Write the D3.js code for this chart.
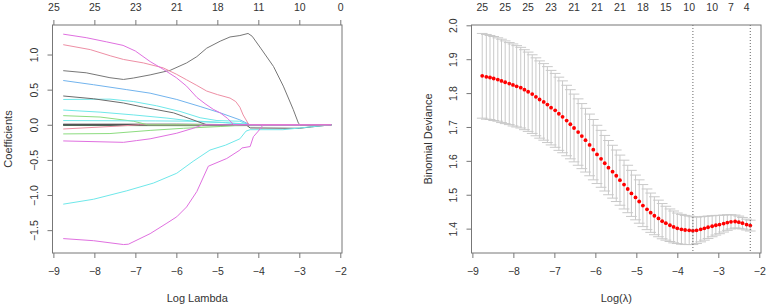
<!DOCTYPE html>
<html>
<head>
<meta charset="utf-8">
<script src="https://cdn.jsdelivr.net/npm/d3@7"></script>
<style>
  body { margin: 0; background: #fff; }
  text { font-family: "Liberation Sans", Arial, sans-serif; fill: #333; }
</style>
</head>
<body>
<div id="chart-area"></div>
<script>
/*
*    lasso paths + cv deviance
*/

// lambda grid (log scale), shared by both panels
var logLambda = [-8.76, -8.66, -8.57, -8.48, -8.38, -8.29, -8.20, -8.10, -8.01, -7.92,
    -7.82, -7.73, -7.64, -7.54, -7.45, -7.36, -7.26, -7.17, -7.08, -6.98,
    -6.89, -6.80, -6.70, -6.61, -6.52, -6.42, -6.33, -6.24, -6.14, -6.05,
    -5.96, -5.86, -5.77, -5.68, -5.58, -5.49, -5.40, -5.30, -5.21, -5.12,
    -5.02, -4.93, -4.84, -4.74, -4.65, -4.56, -4.46, -4.37, -4.28, -4.18,
    -4.09, -4.00, -3.90, -3.81, -3.71, -3.62, -3.53, -3.43, -3.34, -3.25,
    -3.15, -3.06, -2.97, -2.87, -2.78, -2.69, -2.59, -2.50, -2.41, -2.31, -2.22];

var cvMean = [1.851, 1.848, 1.846, 1.843, 1.840, 1.836, 1.832, 1.828, 1.824, 1.820,
    1.816, 1.810, 1.804, 1.797, 1.789, 1.781, 1.774, 1.766, 1.757, 1.749,
    1.739, 1.730, 1.719, 1.708, 1.697, 1.685, 1.673, 1.661, 1.647, 1.633,
    1.619, 1.606, 1.593, 1.580, 1.568, 1.556, 1.543, 1.530, 1.517, 1.504,
    1.492, 1.480, 1.468, 1.457, 1.447, 1.438, 1.430, 1.422, 1.416, 1.410,
    1.405, 1.401, 1.398, 1.396, 1.395, 1.394, 1.395, 1.398, 1.401, 1.404,
    1.407, 1.410, 1.412, 1.415, 1.418, 1.420, 1.421, 1.419, 1.416, 1.412, 1.409];

var cvSD = [0.125, 0.125, 0.124, 0.124, 0.123, 0.123, 0.122, 0.121, 0.121, 0.120,
    0.119, 0.118, 0.117, 0.116, 0.115, 0.114, 0.113, 0.112, 0.110, 0.109,
    0.108, 0.106, 0.104, 0.102, 0.100, 0.098, 0.096, 0.094, 0.091, 0.089,
    0.086, 0.084, 0.082, 0.080, 0.078, 0.076, 0.074, 0.072, 0.070, 0.068,
    0.066, 0.064, 0.062, 0.060, 0.058, 0.056, 0.054, 0.052, 0.050, 0.048,
    0.047, 0.045, 0.044, 0.043, 0.042, 0.041, 0.039, 0.037, 0.035, 0.033,
    0.031, 0.029, 0.027, 0.025, 0.023, 0.021, 0.019, 0.018, 0.017, 0.016, 0.016];

// number of nonzero coefs shown on top of the cv plot
var nzTopIdx = [0, 6, 12, 18, 24, 30, 36, 42, 48, 54, 60, 65, 69];
var nzTopLabels = ["25", "25", "25", "23", "21", "21", "21", "18", "15", "10", "10", "7", "4"];
var minIdx = 55;   // lambda.min
var seIdx = 70;    // lambda.1se

// top labels of the coefficient plot (at -9 ... -2)
var dfTicks = [-9, -8, -7, -6, -5, -4, -3, -2];
var dfLabels = ["25", "25", "23", "21", "18", "11", "10", "0"];

var xTicks = [-9, -8, -7, -6, -5, -4, -3, -2];
var coefTicks = [-1.5, -1.0, -0.5, 0.0, 0.5, 1.0];
var devTicks = [1.4, 1.5, 1.6, 1.7, 1.8, 1.9, 2.0];

// coefficient paths: [log lambda, coefficient]
var coefMagentaTop = [[-8.76, 1.29], [-8.2, 1.24], [-7.7, 1.18], [-7.3, 1.13], [-7.0, 1.05], [-6.64, 0.90],
    [-6.32, 0.79], [-6.0, 0.67], [-5.75, 0.55], [-5.5, 0.39], [-5.3, 0.30], [-5.1, 0.22], [-4.93, 0.17],
    [-4.75, 0.09], [-4.6, 0], [-2.22, 0]];
var coefPinkTop = [[-8.76, 1.14], [-8.1, 1.07], [-7.6, 0.98], [-7.29, 0.93], [-6.8, 0.88], [-6.32, 0.81],
    [-6.0, 0.72], [-5.75, 0.64], [-5.5, 0.56], [-5.26, 0.48], [-5.0, 0.43], [-4.69, 0.38], [-4.55, 0.33],
    [-4.45, 0.25], [-4.37, 0.14], [-4.24, 0.01], [-4.2, 0], [-2.22, 0]];
var coefGrayBig = [[-8.76, 0.77], [-8.2, 0.74], [-7.62, 0.67], [-7.29, 0.645], [-7.05, 0.665], [-6.64, 0.71],
    [-6.15, 0.775], [-5.75, 0.88], [-5.5, 0.97], [-5.26, 1.09], [-4.93, 1.19], [-4.69, 1.25], [-4.45, 1.27],
    [-4.25, 1.30], [-4.15, 1.26], [-3.93, 1.08], [-3.63, 0.83], [-3.39, 0.55], [-3.15, 0.22], [-3.02, 0.02],
    [-2.98, 0], [-2.22, 0]];
var coefBlue = [[-8.76, 0.63], [-8.02, 0.57], [-7.21, 0.50], [-6.64, 0.45], [-5.99, 0.36], [-5.42, 0.26],
    [-4.93, 0.17], [-4.45, 0.07], [-4.2, 0], [-2.22, 0]];
var coefGray2 = [[-8.76, 0.41], [-8.02, 0.37], [-7.29, 0.31], [-6.8, 0.25], [-6.07, 0.17], [-5.83, 0.12],
    [-5.5, 0.05], [-5.26, 0], [-2.22, 0]];
var coefCyan1 = [[-8.76, 0.36], [-7.62, 0.365], [-7.04, 0.33], [-6.48, 0.27], [-5.91, 0.19], [-5.42, 0.10],
    [-5.01, 0.06], [-4.45, 0.05], [-4.24, 0], [-2.22, 0]];
var coefCyan2 = [[-8.76, 0.21], [-7.86, 0.18], [-7.04, 0.14], [-6.23, 0.095], [-5.5, 0.045], [-4.8, 0.03],
    [-4.28, 0.01], [-4.2, 0], [-2.22, 0]];
var coefGreen1 = [[-8.76, 0.13], [-7.86, 0.11], [-7.04, 0.05], [-6.7, 0], [-2.22, 0]];
var coefCyan3 = [[-8.76, 0.06], [-6.5, 0.055], [-5.42, 0.05], [-4.8, 0.03], [-4.2, 0], [-2.22, 0]];
var coefGreen2 = [[-8.76, -0.13], [-7.62, -0.125], [-6.64, -0.08], [-5.83, -0.05], [-4.93, -0.025],
    [-4.3, 0], [-2.22, 0]];
var coefPink2 = [[-8.76, -0.06], [-7.45, -0.02], [-6.9, 0], [-2.22, 0]];
var coefMagenta2 = [[-8.76, -0.23], [-7.29, -0.25], [-6.97, -0.225], [-6.64, -0.20], [-5.99, -0.12],
    [-5.59, -0.05], [-5.34, 0], [-2.22, 0]];
var coefCyanLow = [[-8.76, -1.13], [-8.02, -1.06], [-7.21, -0.94], [-6.56, -0.83], [-5.99, -0.69],
    [-5.59, -0.52], [-5.18, -0.36], [-4.8, -0.29], [-4.45, -0.20], [-4.3, -0.09], [-4.2, -0.07],
    [-3.4, -0.07], [-2.22, 0]];
var coefMagentaLow = [[-8.76, -1.62], [-8.02, -1.65], [-7.29, -1.705], [-7.17, -1.70], [-6.64, -1.55],
    [-6.23, -1.40], [-5.99, -1.31], [-5.75, -1.17], [-5.5, -0.95], [-5.22, -0.59], [-4.77, -0.48],
    [-4.45, -0.36], [-4.4, -0.33], [-4.2, -0.31], [-4.12, -0.17], [-4.0, -0.09], [-3.88, 0], [-2.22, 0]];
var coefBlackNeg = [[-8.76, 0], [-4.3, 0], [-4.2, -0.045], [-3.0, -0.05], [-2.7, -0.03], [-2.22, 0]];
var coefGreen3 = [[-8.76, -0.01], [-5.0, -0.015], [-4.2, -0.012], [-3.0, -0.01], [-2.22, 0]];
var coefBlack0 = [[-8.76, 0.008], [-6.0, 0.008], [-5.0, 0.004], [-4.6, 0], [-2.22, 0]];
var coefBlue0 = [[-8.76, 0], [-2.22, 0]];
var coefBlack1 = [[-8.76, -0.004], [-5.4, -0.003], [-4.2, 0], [-2.22, 0]];

var coefPaths = [coefGreen3, coefBlue0, coefBlack1, coefBlack0, coefBlackNeg, coefPink2, coefGreen2,
    coefGreen1, coefCyan3, coefCyan2, coefCyan1, coefGray2, coefBlue, coefMagenta2, coefCyanLow,
    coefMagentaLow, coefGrayBig, coefPinkTop, coefMagentaTop];
var coefColors = ["#7fd873", "#1d4f9a", "#333333", "#3a3a3a", "#5a5a5a", "#ee8fa5", "#8ddc80",
    "#8ddc80", "#6fe8ea", "#6fe8ea", "#6fe8ea", "#6b6b6b", "#72b4ee", "#e070e0", "#6fe8ea",
    "#e070e0", "#777777", "#ee8fa5", "#e070e0"];

var width = 767;
var height = 308;
var plotTop = 25, plotBottom = 253;
var leftPanel = {x0: 52.5, x1: 342};
var rightPanel = {x0: 471.5, x1: 761};

var svg = d3.select("#chart-area")
    .append("svg")
    .attr("width", width)
    .attr("height", height);

// R style 4% padding
function padded(ext) {
    var d = (ext[1] - ext[0]) * 0.04;
    return [ext[0] - d, ext[1] + d];
}

var lamExt = d3.extent(logLambda);

// ---------- left: coefficient paths ----------
var xL = d3.scaleLinear().domain(padded(lamExt)).range([leftPanel.x0, leftPanel.x1]);
var allCoef = [];
coefPaths.forEach((p) => { p.forEach((d) => { allCoef.push(d[1]); }); });
var yL = d3.scaleLinear().domain(padded(d3.extent(allCoef))).range([plotBottom, plotTop]);

var gL = svg.append("g");

var line = d3.line()
    .x((d) => { return xL(d[0]); })
    .y((d) => { return yL(d[1]); });

gL.selectAll("path.coef").data(coefPaths)
    .enter()
    .append("path")
        .attr("class", "coef")
        .attr("d", line)
        .attr("fill", "none")
        .attr("stroke", (d, i) => { return coefColors[i]; })
        .attr("stroke-width", 1);

function drawFrame(g, x, y, yTicks, yFmt, panel) {
    g.append("rect")
        .attr("x", panel.x0).attr("y", plotTop)
        .attr("width", panel.x1 - panel.x0).attr("height", plotBottom - plotTop)
        .attr("fill", "none").attr("stroke", "#777").attr("stroke-width", 1);

    var bx = g.append("g")
        .attr("transform", "translate(0," + plotBottom + ")")
        .call(d3.axisBottom(x).tickValues(xTicks).tickSize(5).tickSizeOuter(0).tickFormat(d3.format("d")));
    bx.select(".domain").remove();
    bx.selectAll("line").attr("stroke", "#777");
    bx.selectAll("text").attr("y", 15).attr("font-size", "10.5px").attr("fill", "#333");

    var ly = g.append("g")
        .attr("transform", "translate(" + panel.x0 + ",0)")
        .call(d3.axisLeft(y).tickValues(yTicks).tickSize(5).tickSizeOuter(0).tickFormat(yFmt));
    ly.select(".domain").remove();
    ly.selectAll("line").attr("stroke", "#777");
    ly.selectAll("text")
        .attr("x", 0).attr("dy", 0)
        .attr("text-anchor", "middle")
        .attr("font-size", "10.5px").attr("fill", "#333")
        .attr("transform", "translate(-15,0) rotate(-90)");
}

drawFrame(gL, xL, yL, coefTicks, d3.format(".1f"), leftPanel);

// top axis with df
var tx = gL.append("g")
    .attr("transform", "translate(0," + plotTop + ")")
    .call(d3.axisTop(xL).tickValues(dfTicks).tickSize(5).tickSizeOuter(0)
        .tickFormat((d, i) => { return dfLabels[i]; }));
tx.select(".domain").remove();
tx.selectAll("line").attr("stroke", "#777");
tx.selectAll("text").attr("y", -14).attr("dy", 0).attr("font-size", "10.5px").attr("fill", "#333");

gL.append("text")
    .attr("x", (leftPanel.x0 + leftPanel.x1) / 2)
    .attr("y", 302)
    .attr("font-size", "11px")
    .attr("text-anchor", "middle")
    .text("Log Lambda");

gL.append("text")
    .attr("transform", "translate(12," + ((plotTop + plotBottom) / 2) + ") rotate(-90)")
    .attr("font-size", "11px")
    .attr("text-anchor", "middle")
    .text("Coefficients");

// ---------- right: cv deviance ----------
var xR = d3.scaleLinear().domain(padded(lamExt)).range([rightPanel.x0, rightPanel.x1]);
var lows = cvMean.map((m, i) => { return m - cvSD[i]; });
var ups = cvMean.map((m, i) => { return m + cvSD[i]; });
var yR = d3.scaleLinear().domain(padded([d3.min(lows), d3.max(ups)])).range([plotBottom, plotTop]);

var gR = svg.append("g");
var barw = (lamExt[1] - lamExt[0]) * 0.02;

var bars = gR.selectAll("g.bar").data(logLambda)
    .enter()
    .append("g")
        .attr("class", "bar")
        .attr("stroke", "#c9c9c9")
        .attr("stroke-width", 1);
bars.append("line")
    .attr("x1", (d) => { return xR(d); }).attr("x2", (d) => { return xR(d); })
    .attr("y1", (d, i) => { return yR(ups[i]); }).attr("y2", (d, i) => { return yR(lows[i]); });
bars.append("line")
    .attr("x1", (d) => { return xR(d - barw); }).attr("x2", (d) => { return xR(d + barw); })
    .attr("y1", (d, i) => { return yR(ups[i]); }).attr("y2", (d, i) => { return yR(ups[i]); });
bars.append("line")
    .attr("x1", (d) => { return xR(d - barw); }).attr("x2", (d) => { return xR(d + barw); })
    .attr("y1", (d, i) => { return yR(lows[i]); }).attr("y2", (d, i) => { return yR(lows[i]); });

gR.selectAll("circle").data(logLambda)
    .enter()
    .append("circle")
        .attr("cx", (d) => { return xR(d); })
        .attr("cy", (d, i) => { return yR(cvMean[i]); })
        .attr("r", 1.9)
        .attr("fill", "#ff0000");

[minIdx, seIdx].forEach((k) => {
    gR.append("line")
        .attr("x1", xR(logLambda[k])).attr("x2", xR(logLambda[k]))
        .attr("y1", plotTop).attr("y2", plotBottom)
        .attr("stroke", "#666")
        .attr("stroke-dasharray", "1,2");
});

drawFrame(gR, xR, yR, devTicks, d3.format(".1f"), rightPanel);

gR.selectAll("text.nz").data(nzTopIdx)
    .enter()
    .append("text")
        .attr("class", "nz")
        .attr("x", (d) => { return xR(logLambda[d]); })
        .attr("y", 11)
        .attr("font-size", "10.5px")
        .attr("text-anchor", "middle")
        .text((d, i) => { return nzTopLabels[i]; });

gR.append("text")
    .attr("x", (rightPanel.x0 + rightPanel.x1) / 2)
    .attr("y", 302)
    .attr("font-size", "11px")
    .attr("text-anchor", "middle")
    .text("Log(\u03bb)");

gR.append("text")
    .attr("transform", "translate(432," + ((plotTop + plotBottom) / 2) + ") rotate(-90)")
    .attr("font-size", "11px")
    .attr("text-anchor", "middle")
    .text("Binomial Deviance");
</script>
</body>
</html>
